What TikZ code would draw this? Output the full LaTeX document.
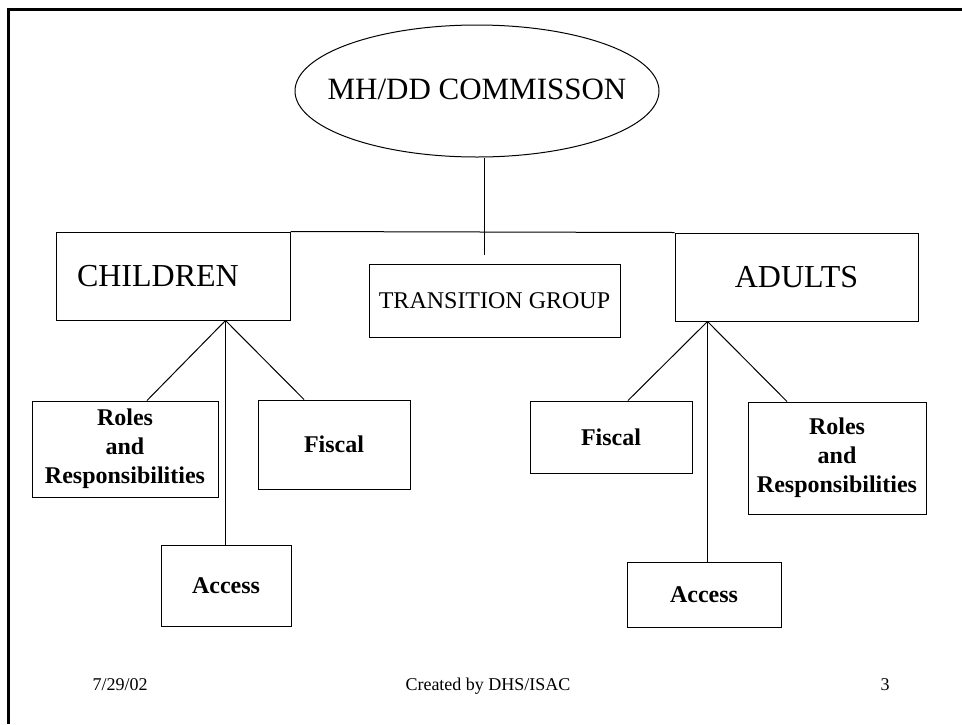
\documentclass[tikz,border=0pt]{standalone}
\usepackage{fontspec}
\setmainfont{Liberation Serif}
\usetikzlibrary{shapes.geometric,calc}

\begin{document}
\begin{tikzpicture}[x=1pt,y=-1pt]
	% styles
	\tikzset{group box/.style={draw,line width=1pt,inner sep=0pt,font=\fontsize{32}{38}\selectfont},
		topic box/.style={draw,line width=1pt,inner sep=0pt,align=center,font=\bfseries\fontsize{24}{29}\selectfont},
		link/.style={line width=1pt},
		foot/.style={anchor=base,font=\fontsize{18}{22}\selectfont}}
	\useasboundingbox (0,0) rectangle (962,724);
	
	% Draw the frame
	\draw[line width=2.5pt] (962,9.5) -- (8.5,9.5) -- (8.5,724);
	
	% the commission
	\node[draw,ellipse,line width=1pt,minimum width=364pt,minimum height=132pt,inner sep=0pt,font=\fontsize{31}{36}\selectfont] (comm) at (477,91) {\raisebox{4pt}{\makebox[0pt]{MH/DD COMMISSON}}};
	
	% the three groups
	\node[group box,minimum width=234pt,minimum height=88pt,align=left,text width=192pt] (children) at (173,276) {CHILDREN};
	\node[group box,minimum width=243pt,minimum height=88pt] (adults) at (796.5,277) {ADULTS};
	\node[group box,minimum width=251pt,minimum height=73pt,font=\fontsize{24}{28}\selectfont] (trans) at (494.5,300.5) {TRANSITION GROUP};
	
	% the children branch
	\node[topic box,minimum width=186pt,minimum height=96pt] (croles) at (125,449) {Roles\\and\\Responsibilities};
	\node[topic box,minimum width=152pt,minimum height=89pt] (cfisc) at (334,444.5) {Fiscal};
	\node[topic box,minimum width=130pt,minimum height=81pt] (cacc) at (226,585.5) {Access};
	
	% the adults branch
	\node[topic box,minimum width=162pt,minimum height=72pt] (afisc) at (611,437) {Fiscal};
	\node[topic box,minimum width=178pt,minimum height=112pt] (aroles) at (837,458) {Roles\\and\\Responsibilities};
	\node[topic box,minimum width=154pt,minimum height=65pt] (aacc) at (704,594.5) {Access};
	
	% junction points
	\coordinate (cjoin) at ($(children.south west)+(170,0)$);
	\coordinate (ajoin) at ($(adults.south west)+(33,0)$);
	\coordinate (stem) at (484,255);
	
	% Draw the connectors
	\draw[link] (comm.south -| stem) -- (stem);
	\draw[link] (children.north east) -- (adults.north west);
	\draw[link] (cjoin) -- ($(croles.north)+(22,0)$);
	\draw[link] (cjoin) -- ($(cfisc.north)+(-30,0)$);
	\draw[link] (cjoin) -- (cjoin |- cacc.north);
	\draw[link] (ajoin) -- ($(afisc.north)+(17,0)$);
	\draw[link] (ajoin) -- ($(aroles.north)+(-50,0)$);
	\draw[link] (ajoin) -- (ajoin |- aacc.north);
	
	% footer
	\node[foot] (date) at (120,690) {7/29/02};
	\node[foot] (maker) at (488,690) {Created by DHS/ISAC};
	\node[foot] (page) at (885,690) {3};
\end{tikzpicture}
\end{document}
